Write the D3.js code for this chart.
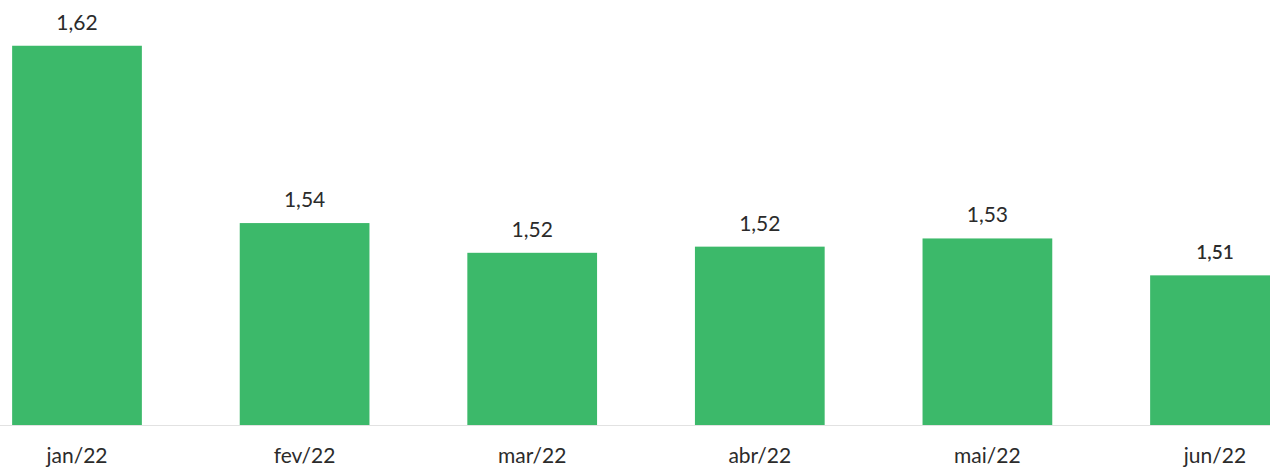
<!DOCTYPE html>
<html><head><meta charset="utf-8">
<script src="https://cdn.jsdelivr.net/npm/d3@7"></script>
<style>html,body{margin:0;padding:0;background:#fff;overflow:hidden}</style>
</head><body>
<svg id="chart" width="1270" height="468"></svg>
<script>
const categories = ["jan/22","fev/22","mar/22","abr/22","mai/22","jun/22"];
const values = [1.622, 1.5355, 1.521, 1.524, 1.528, 1.510];

const W = 1270, H = 468;
const svg = d3.select("#chart");
const x = d3.scaleBand().domain(categories).range([-36.8, 1328.8]).paddingInner(0.43).paddingOuter(0.215);
const y = d3.scaleLinear().domain([1.437, 1.637]).range([425, 15]);
const fmt = v => v.toFixed(2).replace(".", ",");

svg.append("line").attr("x1", 0).attr("x2", W).attr("y1", 425.5).attr("y2", 425.5)
  .attr("stroke", "#e2e2e2").attr("stroke-width", 1);

svg.selectAll("rect.bar").data(values).join("rect").attr("class","bar")
  .attr("x", (d,i) => x(categories[i]))
  .attr("width", x.bandwidth())
  .attr("y", d => y(d))
  .attr("height", d => y.range()[0] - y(d))
  .attr("fill", "#3cb96a");

svg.selectAll("text.val").data(values).join("text").attr("class","val")
  .attr("x", (d,i) => x(categories[i]) + x.bandwidth()/2)
  .attr("y", d => y(d) - 16)
  .attr("text-anchor", "middle")
  .attr("font-family", "Lato, 'Open Sans', sans-serif")
  .attr("font-size", (d,i) => i === values.length - 1 ? 19 : 21)
  .attr("font-weight", (d,i) => i === values.length - 1 ? 600 : 400)
  .attr("fill", "#2b2b2b")
  .text(d => fmt(d));

svg.selectAll("text.cat").data(categories).join("text").attr("class","cat")
  .attr("x", d => x(d) + x.bandwidth()/2)
  .attr("y", 463)
  .attr("text-anchor", "middle")
  .attr("font-family", "Lato, 'Open Sans', sans-serif")
  .attr("font-size", 21)
  .attr("fill", "#2b2b2b")
  .text(d => d);
</script>
</body></html>
